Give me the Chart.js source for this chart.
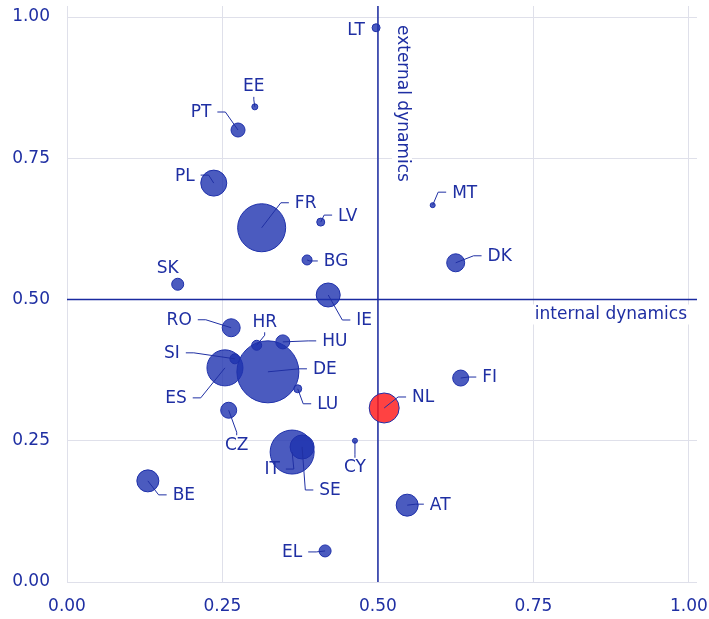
<!doctype html>
<html lang="en">
<head>
<meta charset="utf-8">
<title>Internal vs external dynamics</title>
<script src="https://cdn.jsdelivr.net/npm/chart.js"></script>
<style>
  body { margin: 0; background: #fff; }
</style>
</head>
<body>
<canvas id="dynChart" width="709" height="619"></canvas>
<script>
// data
var countries   = ["ES", "DE", "FR", "IT", "SE", "PL", "PT", "EE", "LT", "LV", "MT", "DK", "BG", "SK", "IE",
                   "RO", "HR", "HU", "SI", "LU", "CZ", "CY", "NL", "FI", "AT", "BE", "EL"];
var internalDyn = [0.254, 0.323, 0.313, 0.362, 0.378, 0.236, 0.275, 0.302, 0.497, 0.408, 0.588, 0.625, 0.386, 0.178, 0.420,
                   0.264, 0.305, 0.347, 0.270, 0.371, 0.260, 0.463, 0.510, 0.633, 0.547, 0.130, 0.415];
var externalDyn = [0.379, 0.372, 0.627, 0.230, 0.239, 0.706, 0.800, 0.841, 0.981, 0.637, 0.667, 0.565, 0.570, 0.527, 0.508,
                   0.450, 0.419, 0.425, 0.395, 0.342, 0.304, 0.250, 0.308, 0.361, 0.136, 0.179, 0.055];
var bubbleSize  = [18, 31, 24, 22, 12, 13, 7, 3, 4, 4, 2.5, 9, 5, 6, 12,
                   9, 5, 7, 5, 4, 8, 2.5, 15, 8, 11, 11, 6];
var highlight = "NL";
var tickValues = [0, 0.25, 0.5, 0.75, 1];
var splitValue = 0.5;

// where each label sits, in pixels from its bubble centre (third item false = no leader line)
var labelOffsets = {
  LT: [-20, 3, false], EE: [-1, -20], PT: [-37, -17], PL: [-29, -7], FR: [44, -24],
  LV: [27, -6], MT: [32, -12], DK: [44, -6], BG: [29, 2], SK: [-10, -16, false],
  IE: [36, 26], RO: [-52, -7], HR: [8, -23], HU: [52, 0], SI: [-63, -5],
  ES: [-49, 31], DE: [57, -2], LU: [30, 16], CZ: [8, 35], IT: [-20, 18],
  SE: [28, 44], CY: [0, 27], NL: [39, -10], FI: [29, 0], AT: [33, 0],
  BE: [36, 15], EL: [-33, 2]
};

var textBlue = "#1f2fa3";
var lineBlue = "#1a2aa0";
var gridColor = "#dfe0ea";
var fontFamily = '"DejaVu Sans", Verdana, sans-serif';
var fontSize = 17;

var points = countries.map(function(c, i) {
  return { x: internalDyn[i], y: externalDyn[i], r: bubbleSize[i] };
});

var quadrantLines = {
  id: "quadrantLines",
  beforeDatasetsDraw: function(chart) {
    var ctx = chart.ctx, a = chart.chartArea;
    var mx = chart.scales.x.getPixelForValue(splitValue);
    var my = chart.scales.y.getPixelForValue(splitValue);
    ctx.save();
    ctx.font = fontSize + "px " + fontFamily;
    ctx.textBaseline = "middle";

    // internal dynamics, under the horizontal line
    var t1 = "internal dynamics";
    var w1 = ctx.measureText(t1).width;
    ctx.fillStyle = "#fff";
    ctx.fillRect(a.right - 10 - w1 - 4, my + 5, w1 + 8, 20);
    ctx.fillStyle = textBlue;
    ctx.textAlign = "right";
    ctx.fillText(t1, a.right - 10, my + 15);

    // external dynamics, rotated next to the vertical line
    var t2 = "external dynamics";
    var w2 = ctx.measureText(t2).width;
    ctx.translate(mx + 24, a.top + 19);
    ctx.rotate(Math.PI / 2);
    ctx.fillStyle = "#fff";
    ctx.fillRect(-4, -10, w2 + 8, 20);
    ctx.fillStyle = textBlue;
    ctx.textAlign = "left";
    ctx.fillText(t2, 0, 0);
    ctx.setTransform(1, 0, 0, 1, 0, 0);

    ctx.strokeStyle = lineBlue;
    ctx.lineWidth = 1.5;
    ctx.beginPath();
    ctx.moveTo(mx, a.top);
    ctx.lineTo(mx, a.bottom);
    ctx.moveTo(a.left, my);
    ctx.lineTo(a.right, my);
    ctx.stroke();
    ctx.restore();
  }
};

var bubbleLabels = {
  id: "bubbleLabels",
  afterDatasetsDraw: function(chart) {
    var ctx = chart.ctx;
    var meta = chart.getDatasetMeta(0);
    ctx.save();
    ctx.font = fontSize + "px " + fontFamily;
    ctx.fillStyle = textBlue;
    ctx.strokeStyle = textBlue;
    ctx.lineWidth = 1;
    ctx.textAlign = "center";
    ctx.textBaseline = "middle";
    meta.data.forEach(function(el, i) {
      var name = countries[i];
      var off = labelOffsets[name];
      var px = el.x, py = el.y;
      var tx = px + off[0], ty = py + off[1];
      var w = ctx.measureText(name).width;
      if (off[2] !== false) {
        var ax, ay, bx, by;
        if (Math.abs(off[0]) >= 15) {
          var side = off[0] > 0 ? -1 : 1;
          ax = tx + side * (w / 2 + 6); ay = ty - 1;
          bx = ax + side * 8; by = ay;
        } else {
          var vs = off[1] > 0 ? -1 : 1;
          ax = tx; ay = ty + vs * 10;
          bx = ax; by = ay + vs * 3;
        }
        ctx.beginPath();
        ctx.moveTo(px, py);
        ctx.lineTo(bx, by);
        ctx.lineTo(ax, ay);
        ctx.stroke();
      }
      ctx.fillText(name, tx, ty);
    });
    ctx.restore();
  }
};

function fixTicks(axis) {
  axis.ticks = tickValues.map(function(v) { return { value: v }; });
}

new Chart(document.getElementById("dynChart").getContext("2d"), {
  type: "bubble",
  data: {
    datasets: [{
      data: points,
      backgroundColor: countries.map(function(c) {
        return c === highlight ? "rgba(255,25,25,0.82)" : "rgba(30,50,175,0.8)";
      }),
      borderColor: "rgb(30,48,170)",
      borderWidth: 1
    }]
  },
  options: {
    responsive: false,
    animation: false,
    events: [],
    layout: { autoPadding: false, padding: { top: 6, right: 12, left: 0, bottom: 0 } },
    plugins: { legend: { display: false }, tooltip: { enabled: false } },
    scales: {
      x: {
        type: "linear",
        min: 0,
        max: 1.013,
        afterBuildTicks: fixTicks,
        afterFit: function(s) { s.height = 37; s.paddingLeft = 0; s.paddingRight = 0; },
        grid: { color: gridColor, drawTicks: false },
        border: { display: false },
        ticks: {
          padding: 14,
          color: textBlue,
          font: { family: fontFamily, size: fontSize },
          callback: function(v) { return v.toFixed(2); }
        }
      },
      y: {
        type: "linear",
        min: 0,
        max: 1.0195,
        afterBuildTicks: fixTicks,
        afterFit: function(s) { s.width = 67; s.paddingTop = 0; s.paddingBottom = 0; },
        grid: { color: gridColor, drawTicks: false },
        border: { display: false },
        ticks: {
          padding: 17,
          color: textBlue,
          font: { family: fontFamily, size: fontSize },
          callback: function(v) { return v.toFixed(2); }
        }
      }
    }
  },
  plugins: [quadrantLines, bubbleLabels]
});
</script>
</body>
</html>
